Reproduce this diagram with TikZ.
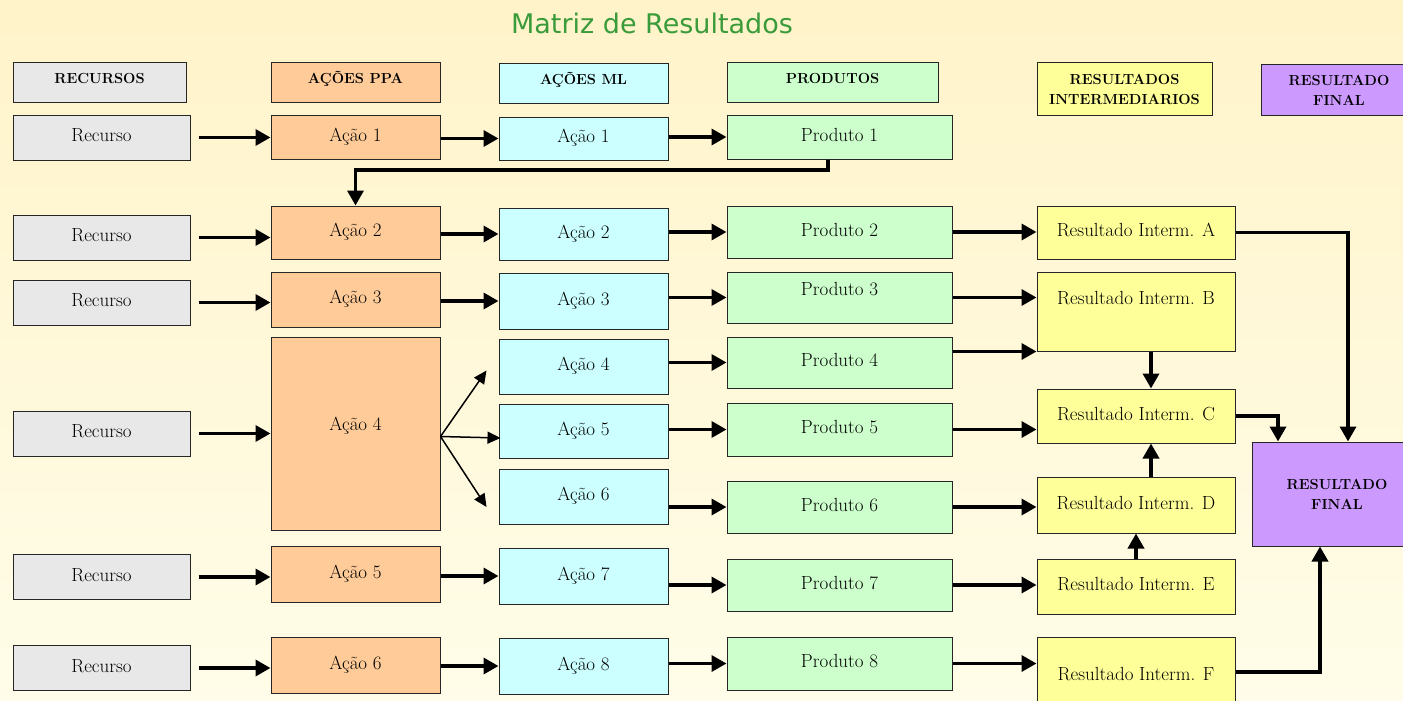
\documentclass[tikz,border=0pt]{standalone}
\usepackage{fontspec}
\usepackage{xcolor}
\usepackage{tikz}
\usetikzlibrary{calc,arrows.meta}
\newfontfamily\titlefont{DejaVu Sans}
\definecolor{bgtop}{HTML}{FFF3C9}
\definecolor{bgbot}{HTML}{FFFDE9}
\definecolor{titlegreen}{HTML}{3A9B3A}
\definecolor{recgray}{HTML}{E8E8E8}
\definecolor{ppaorange}{HTML}{FFCC99}
\definecolor{mlcyan}{HTML}{CCFFFF}
\definecolor{prodgreen}{HTML}{CCFFCC}
\definecolor{resyellow}{HTML}{FFFF99}
\definecolor{finviolet}{HTML}{CC99FF}
\newcommand\cellfont{\fontsize{19}{22}\selectfont}
\newcommand\hdfont{\fontsize{14.6}{20}\selectfont\bfseries}
\tikzset{
  cell/.style={draw=black!85, line width=1pt, inner sep=0pt, font=\cellfont, align=center,
    text height=13pt, text depth=5pt},
  rec/.style={cell, fill=recgray, minimum width=177pt, minimum height=45pt},
  ppa/.style={cell, fill=ppaorange, minimum width=169pt},
  ml/.style={cell, fill=mlcyan, minimum width=169pt},
  prod/.style={cell, fill=prodgreen, minimum width=225pt},
  res/.style={cell, fill=resyellow, minimum width=198pt},
  fin/.style={cell, fill=finviolet},
  hd/.style={font=\hdfont, text height=, text depth=},
  hdone/.style={font=\hdfont, text height=10pt, text depth=8pt},
  lab/.style={font=\cellfont, inner sep=0pt, text height=13pt, text depth=5pt},
  flow/.style={-{Triangle[length=15pt,width=16pt]}, line width=3.5pt},
  fan/.style={-{Triangle[length=13pt,width=12pt]}, line width=1.5pt},
}

\begin{document}
\begin{tikzpicture}[x=1pt,y=-1pt]
  \useasboundingbox (0,0) rectangle (1403,701);
  \clip (0,0) rectangle (1403,701);
  \shade[top color=bgtop,bottom color=bgbot] (0,0) rectangle (1403,701);
  \node[font=\titlefont\fontsize{27}{30}\selectfont, text=titlegreen] (title) at (652,23) {Matriz de Resultados};

  \node[rec,hdone,minimum width=173pt,minimum height=39pt] (hrec) at (99.5,82.5) {RECURSOS};
  \node[ppa,hdone,minimum height=39pt] (hppa) at (355.5,82.5) {AÇÕES PPA};
  \node[ml,hdone,minimum height=39pt] (hml) at (583.5,83.5) {AÇÕES ML};
  \node[prod,hdone,minimum width=211pt,minimum height=39pt] (hprod) at (832.5,82.5) {PRODUTOS};
  \node[res,hd,minimum width=175pt,minimum height=52pt] (hres) at (1124.5,89) {RESULTADOS\\INTERMEDIARIOS};
  \node[fin,hd,minimum width=156pt,minimum height=50pt] (hfin) at (1339,90) {RESULTADO\\FINAL};

  \node[rec] (r1) at (101.5,137.5) {Recurso};
  \node[rec] (r2) at (101.5,237.5) {Recurso};
  \node[rec] (r3) at (101.5,302.5) {Recurso};
  \node[rec] (r4) at (101.5,433.5) {Recurso};
  \node[rec] (r5) at (101.5,577) {Recurso};
  \node[rec] (r6) at (101.5,668) {Recurso};

  \node[ppa,minimum height=44pt] (a1) at (355.5,137) {Ação 1};
  \node[ppa,minimum height=53pt] (a2) at (355.5,232.5) {Ação 2};
  \node[ppa,minimum height=55pt] (a3) at (355.5,299.5) {Ação 3};
  \node[ppa,minimum height=193pt,label={[lab,yshift=7.5pt]center:Ação 4}] (a4) at (355.5,433.5) {};
  \node[ppa,minimum height=56pt] (a5) at (355.5,574) {Ação 5};
  \node[ppa,minimum height=56pt] (a6) at (355.5,665) {Ação 6};

  \node[ml,minimum height=43pt] (m1) at (583.5,138.5) {Ação 1};
  \node[ml,minimum height=52pt] (m2) at (583.5,234) {Ação 2};
  \node[ml,minimum height=56pt] (m3) at (583.5,301) {Ação 3};
  \node[ml,minimum height=55pt] (m4) at (583.5,366.5) {Ação 4};
  \node[ml,minimum height=54pt] (m5) at (583.5,431) {Ação 5};
  \node[ml,minimum height=55pt] (m6) at (583.5,496.5) {Ação 6};
  \node[ml,minimum height=56pt] (m7) at (583.5,576) {Ação 7};
  \node[ml,minimum height=56pt] (m8) at (583.5,666) {Ação 8};

  \node[prod,minimum height=44pt] (p1) at (839.5,137) {Produto 1};
  \node[prod,minimum height=52pt] (p2) at (839.5,232) {Produto 2};
  \node[prod,minimum height=51pt,label={[lab,yshift=6.5pt]center:Produto 3}] (p3) at (839.5,297.5) {};
  \node[prod,minimum height=51pt] (p4) at (839.5,362.5) {Produto 4};
  \node[prod,minimum height=53pt] (p5) at (839.5,429.5) {Produto 5};
  \node[prod,minimum height=52pt] (p6) at (839.5,507) {Produto 6};
  \node[prod,minimum height=52pt] (p7) at (839.5,585) {Produto 7};
  \node[prod,minimum height=53pt] (p8) at (839.5,663.5) {Produto 8};

  \node[res,minimum height=53pt] (ra) at (1136,232.5) {Resultado Interm. A};
  \node[res,minimum height=79pt,label={[lab,yshift=11.5pt]center:Resultado Interm. B}] (rb) at (1136,311.5) {};
  \node[res,minimum height=54pt] (rc) at (1136,416) {Resultado Interm. C};
  \node[res,minimum height=56pt] (rd) at (1136,505) {Resultado Interm. D};
  \node[res,minimum height=55pt] (re) at (1136,586.5) {Resultado Interm. E};
  \node[res,minimum height=79pt] (rf) at (1136,676.5) {Resultado Interm. F};

  \node[fin,hd,minimum width=170pt,minimum height=104pt] (fin) at (1337,494) {RESULTADO\\FINAL};

  \draw[flow] ([xshift=8pt]r1.east) -- (r1.east -| a1.west);
  \draw[flow] ([xshift=8pt]r2.east) -- (r2.east -| a2.west);
  \draw[flow] ([xshift=8pt]r3.east) -- (r3.east -| a3.west);
  \draw[flow] ([xshift=8pt]r4.east) -- (r4.east -| a4.west);
  \draw[flow] ([xshift=8pt]r5.east) -- (r5.east -| a5.west);
  \draw[flow] ([xshift=8pt]r6.east) -- (r6.east -| a6.west);

  \draw[flow] (a1.east |- m1.west) -- (m1.west);
  \draw[flow] (a2.east |- m2.west) -- (m2.west);
  \draw[flow] (a3.east |- m3.west) -- (m3.west);
  \draw[flow] (a5.east |- m7.west) -- (m7.west);
  \draw[flow] (a6.east |- m8.west) -- (m8.west);
  \coordinate (fan) at ([yshift=-3pt]a4.east);
  \draw[fan] (fan) -- ([xshift=-12pt,yshift=-4pt]m4.west);
  \draw[fan] (fan) -- ([xshift=2pt,yshift=-7pt]m5.west);
  \draw[fan] (fan) -- ([xshift=-12pt,yshift=-10.5pt]m6.west);

  \draw[flow] (m1.east |- p1.west) -- (p1.west);
  \draw[flow] (m2.east |- p2.west) -- (p2.west);
  \draw[flow] (m3.east |- p3.west) -- (p3.west);
  \draw[flow] (m4.east |- p4.west) -- (p4.west);
  \draw[flow] (m5.east |- p5.west) -- (p5.west);
  \draw[flow] (m6.east |- p6.west) -- (p6.west);
  \draw[flow] (m7.east |- p7.west) -- (p7.west);
  \draw[flow] (m8.east |- p8.west) -- (p8.west);

  \coordinate (back) at (828,170);
  \draw[flow] (back |- p1.south) -- (back) -| (a2.north);

  \draw[flow] (p2.east) -- (p2.east -| ra.west);
  \draw[flow] (p3.east) -- (p3.east -| rb.west);
  \draw[flow] (p4.east |- rb.south west) -- (rb.south west);
  \draw[flow] (p5.east) -- (p5.east -| rc.west);
  \draw[flow] (p6.east) -- (p6.east -| rd.west);
  \draw[flow] (p7.east) -- (p7.east -| re.west);
  \draw[flow] (p8.east) -- (p8.east -| rf.west);

  \draw[flow] ([xshift=15pt]rb.south) -- ([xshift=15pt]rc.north);
  \draw[flow] ([xshift=15pt]rd.north) -- ([xshift=15pt]rc.south);
  \draw[flow] (re.north) -- (rd.south);
  \draw[flow] (ra.east) -| ([xshift=11pt]fin.north);
  \draw[flow] (rc.east) -| ([xshift=-59pt]fin.north);
  \draw[flow] ([yshift=4.5pt]rf.east) -| ([xshift=-17pt]fin.south);
\end{tikzpicture}
\end{document}
